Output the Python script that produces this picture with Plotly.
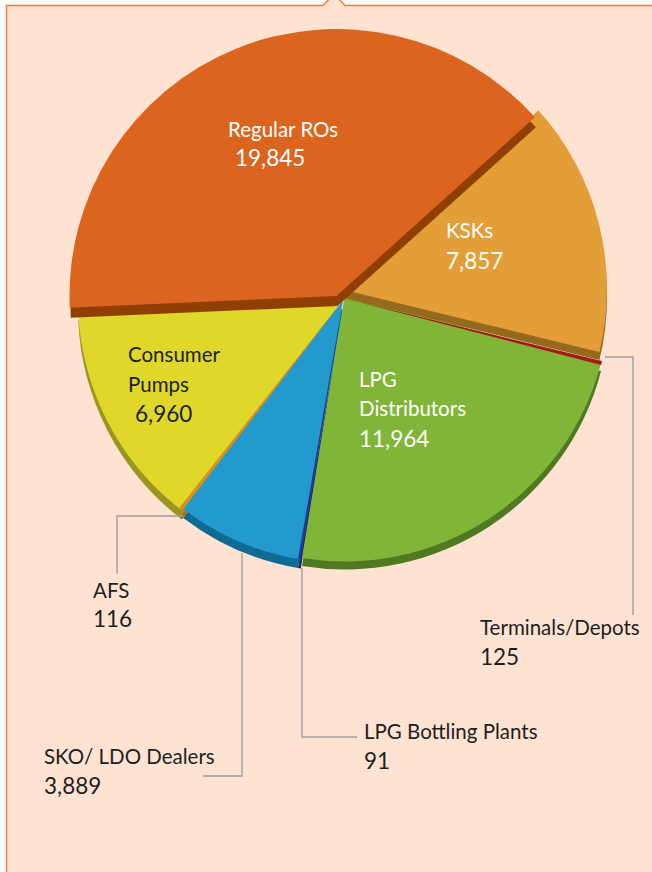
import plotly.graph_objects as go

W, H = 652, 872

categories = ["Regular ROs", "KSKs", "Terminals/Depots", "LPG Distributors",
              "LPG Bottling Plants", "SKO/ LDO Dealers", "AFS", "Consumer Pumps"]
values = [19845, 7857, 125, 11964, 91, 3889, 116, 6960]
top_colors = ["#DB641E", "#E39E38", "#A11C13", "#80B538",
              "#233B97", "#239ACD", "#E08D1A", "#E0D72B"]
wall_colors = ["#8F3F02", "#946A1F", "#A11C13", "#507A22",
               "#1B2A70", "#0F6B93", "#B06E10", "#9C9620"]
ROTATION = -92.5
BG = "#FEE3D3"
BORDER = "#F47B3B"
LEADER = "#9C9C9C"
WHITE = "#FFFFFF"
DARK = "#1E1E1E"
LABEL_SIZE = 20.5
NUMBER_SIZE = 22.5


def fx(x):
    return x / W


def fy(y):
    return 1 - y / H


def disc(cx, cy, r, palette, keep):
    """One flat pie layer; slices whose index is not in keep stay transparent."""
    colors = [c if i in keep else "rgba(0,0,0,0)" for i, c in enumerate(palette)]
    return go.Pie(
        labels=categories, values=values, sort=False, direction="clockwise",
        rotation=ROTATION, textinfo="none", hoverinfo="label+value", showlegend=False,
        marker=dict(colors=colors, line=dict(width=0)),
        domain=dict(x=[fx(cx - r), fx(cx + r)], y=[fy(cy + r), fy(cy - r)]),
    )


fig = go.Figure([
    disc(343, 309, 265, wall_colors, [6, 7]),
    disc(343, 309, 263, wall_colors, [4, 5]),
    disc(344.5, 304.5, 265, wall_colors, [3]),
    disc(344.5, 296.5, 265, top_colors, [3]),
    disc(344.5, 298.5, 265, top_colors, [2]),
    disc(343, 300, 263, top_colors, [4, 5]),
    disc(343, 300, 265, top_colors, [6, 7]),
    disc(340, 297, 267, wall_colors, [1]),
    disc(340, 289, 267, top_colors, [1]),
    disc(337.5, 306, 267, wall_colors, [0]),
    disc(336.5, 296, 267, top_colors, [0]),
])

# (text, x, y, colour, size)
text_items = [
    ("Regular ROs", 226, 129, WHITE, LABEL_SIZE),
    (f"{values[0]:,}", 233, 158, WHITE, NUMBER_SIZE),
    ("KSKs", 444, 230, WHITE, LABEL_SIZE),
    (f"{values[1]:,}", 444, 260, WHITE, NUMBER_SIZE),
    ("LPG", 357, 379, WHITE, LABEL_SIZE),
    ("Distributors", 357, 408, WHITE, LABEL_SIZE),
    (f"{values[3]:,}", 357, 438, WHITE, NUMBER_SIZE),
    ("Consumer", 126, 354, DARK, LABEL_SIZE),
    ("Pumps", 126, 384, DARK, LABEL_SIZE),
    (f"{values[7]:,}", 133, 413, DARK, NUMBER_SIZE),
    ("AFS", 91, 590, DARK, LABEL_SIZE),
    (f"{values[6]:,}", 91, 618, DARK, NUMBER_SIZE),
    ("Terminals/Depots", 478, 627, DARK, LABEL_SIZE),
    (f"{values[2]:,}", 478, 656, DARK, NUMBER_SIZE),
    ("LPG Bottling Plants", 362, 731, DARK, LABEL_SIZE),
    (f"{values[4]:,}", 362, 760, DARK, NUMBER_SIZE),
    ("SKO/ LDO Dealers", 42, 756, DARK, LABEL_SIZE),
    (f"{values[5]:,}", 42, 785, DARK, NUMBER_SIZE),
]
annotations = [
    dict(text=t, x=fx(x), y=fy(y), xref="paper", yref="paper", xanchor="left",
         yanchor="middle", showarrow=False, font=dict(family="Lato", size=s, color=c))
    for t, x, y, c, s in text_items
]


def path(points, close=False):
    s = "M " + " L ".join(f"{fx(x):.5f},{fy(y):.5f}" for x, y in points)
    return s + (" Z" if close else "")


panel = [(6.5, 5.5), (323, 5.5), (334, -6), (345, 5.5), (660, 5.5), (660, 880), (6.5, 880)]
leaders = [
    [(605, 357), (633, 357), (633, 615)],
    [(183, 516), (117, 516), (117, 574)],
    [(242, 553), (242, 776), (203, 776)],
    [(302, 568), (302, 737), (357, 737)],
]
shapes = [dict(type="path", xref="paper", yref="paper", path=path(panel, True),
               fillcolor=BG, line=dict(color=BORDER, width=1.5), layer="below")]
shapes += [dict(type="path", xref="paper", yref="paper", path=path(p),
                line=dict(color=LEADER, width=1.3), layer="above") for p in leaders]

fig.update_layout(
    width=W, height=H, margin=dict(l=0, r=0, t=0, b=0), autosize=False,
    paper_bgcolor="#FFFFFF", plot_bgcolor="#FFFFFF",
    annotations=annotations, shapes=shapes,
)

fig.write_html("out.html", config={"displayModeBar": False},
               post_script="document.body.style.margin='0';document.body.style.overflow='hidden';")
